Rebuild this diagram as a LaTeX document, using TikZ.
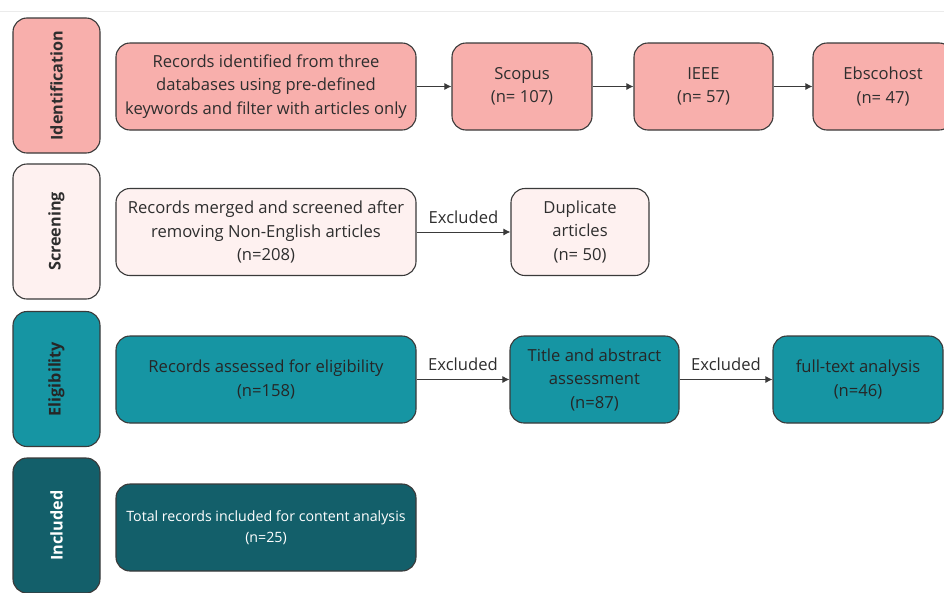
\documentclass[tikz,border=0pt]{standalone}
\usepackage{fontspec}
\setmainfont{Open Sans}
\usetikzlibrary{arrows.meta, positioning}

\definecolor{idpink}{HTML}{F8AFAC}
\definecolor{scrpink}{HTML}{FEF1F0}
\definecolor{eliteal}{HTML}{1695A3}
\definecolor{incteal}{HTML}{135F6A}
\definecolor{edgegray}{HTML}{3A3A3A}
\definecolor{txtgray}{HTML}{2E2E2E}

\tikzset{
  stage/.style={draw=edgegray, line width=1.1pt, rounded corners=14pt, rotate=90,
    minimum width=135pt, minimum height=87pt, inner sep=0pt,
    font=\fontsize{16.2}{19}\selectfont\bfseries, text=txtgray},
  box/.style={draw=edgegray, line width=1.1pt, rounded corners=14pt,
    minimum height=87pt, align=center, text=txtgray, inner sep=2pt},
  flow/.style={->, draw=edgegray, line width=1pt},
  exlabel/.style={midway, above, text=txtgray, inner sep=4pt, yshift=4pt}
}

\begin{document}
\begin{tikzpicture}[x=1pt, y=1pt, >={Latex[length=7pt,width=7pt]},
  font=\fontsize{16.6}{23.5}\selectfont]

  \useasboundingbox (0,0) rectangle (944,-592);
  \clip (0,0) rectangle (944,-592);
  \fill[white] (0,0) rectangle (944,-592);
  \draw[black!8, line width=0.6pt] (0,-11) -- (944,-11);

  % --- stages ---
  \node[stage, fill=idpink] (ident) at (56.5,-85.5) {Identification};
  \node[stage, fill=scrpink] (screen) at (56.5,-231.5) {Screening};
  \node[stage, fill=eliteal, text=black!85] (elig) at (56.5,-379) {Eligibility};
  \node[stage, fill=incteal, text=white] (incl) at (56.5,-525.5) {Included};

  % --- identification row ---
  \node[box, fill=idpink, minimum width=300pt] (records) at (266,-86.5)
    {Records identified from three\\databases using pre-defined\\keywords and filter with articles only};
  \node[box, fill=idpink, minimum width=140pt] (scopus) at (522,-86.5) {Scopus\\(n= 107)};
  \node[box, fill=idpink, minimum width=139pt] (ieee) at (703.5,-86.5) {IEEE\\(n= 57)};
  \node[box, fill=idpink, minimum width=140pt] (ebsco) at (883,-86.5) {Ebscohost\\(n= 47)};

  \draw[flow] (records) -- (scopus);
  \draw[flow] (scopus) -- (ieee);
  \draw[flow] (ieee) -- (ebsco);

  % --- screening row ---
  \node[box, fill=scrpink, minimum width=300pt] (merged) at (266,-232)
    {Records merged and screened after\\removing Non-English articles\\(n=208)};
  \node[box, fill=scrpink, minimum width=138pt] (dupl) at (580,-232) {Duplicate\\articles\\(n= 50)};

  \draw[flow] (merged) -- node[exlabel] {Excluded} (dupl);

  % --- eligibility row ---
  \node[box, fill=eliteal, minimum width=300pt, text=black!85] (assessed) at (266,-379.5)
    {Records assessed for eligibility\\(n=158)};
  \node[box, fill=eliteal, minimum width=169pt, text=black!85] (title) at (594.5,-379.5)
    {Title and abstract\\assessment\\(n=87)};
  \node[box, fill=eliteal, minimum width=170pt, text=black!85] (fulltext) at (858,-379.5)
    {full-text analysis\\(n=46)};

  \draw[flow] (assessed) -- node[exlabel] {Excluded} (title);
  \draw[flow] (title) -- node[exlabel] {Excluded} (fulltext);

  % --- included row ---
  \node[box, fill=incteal, minimum width=300pt, text=white,
    font=\fontsize{14.2}{21}\selectfont] (total) at (266,-527.5)
    {Total records included for content analysis\\(n=25)};

\end{tikzpicture}
\end{document}
